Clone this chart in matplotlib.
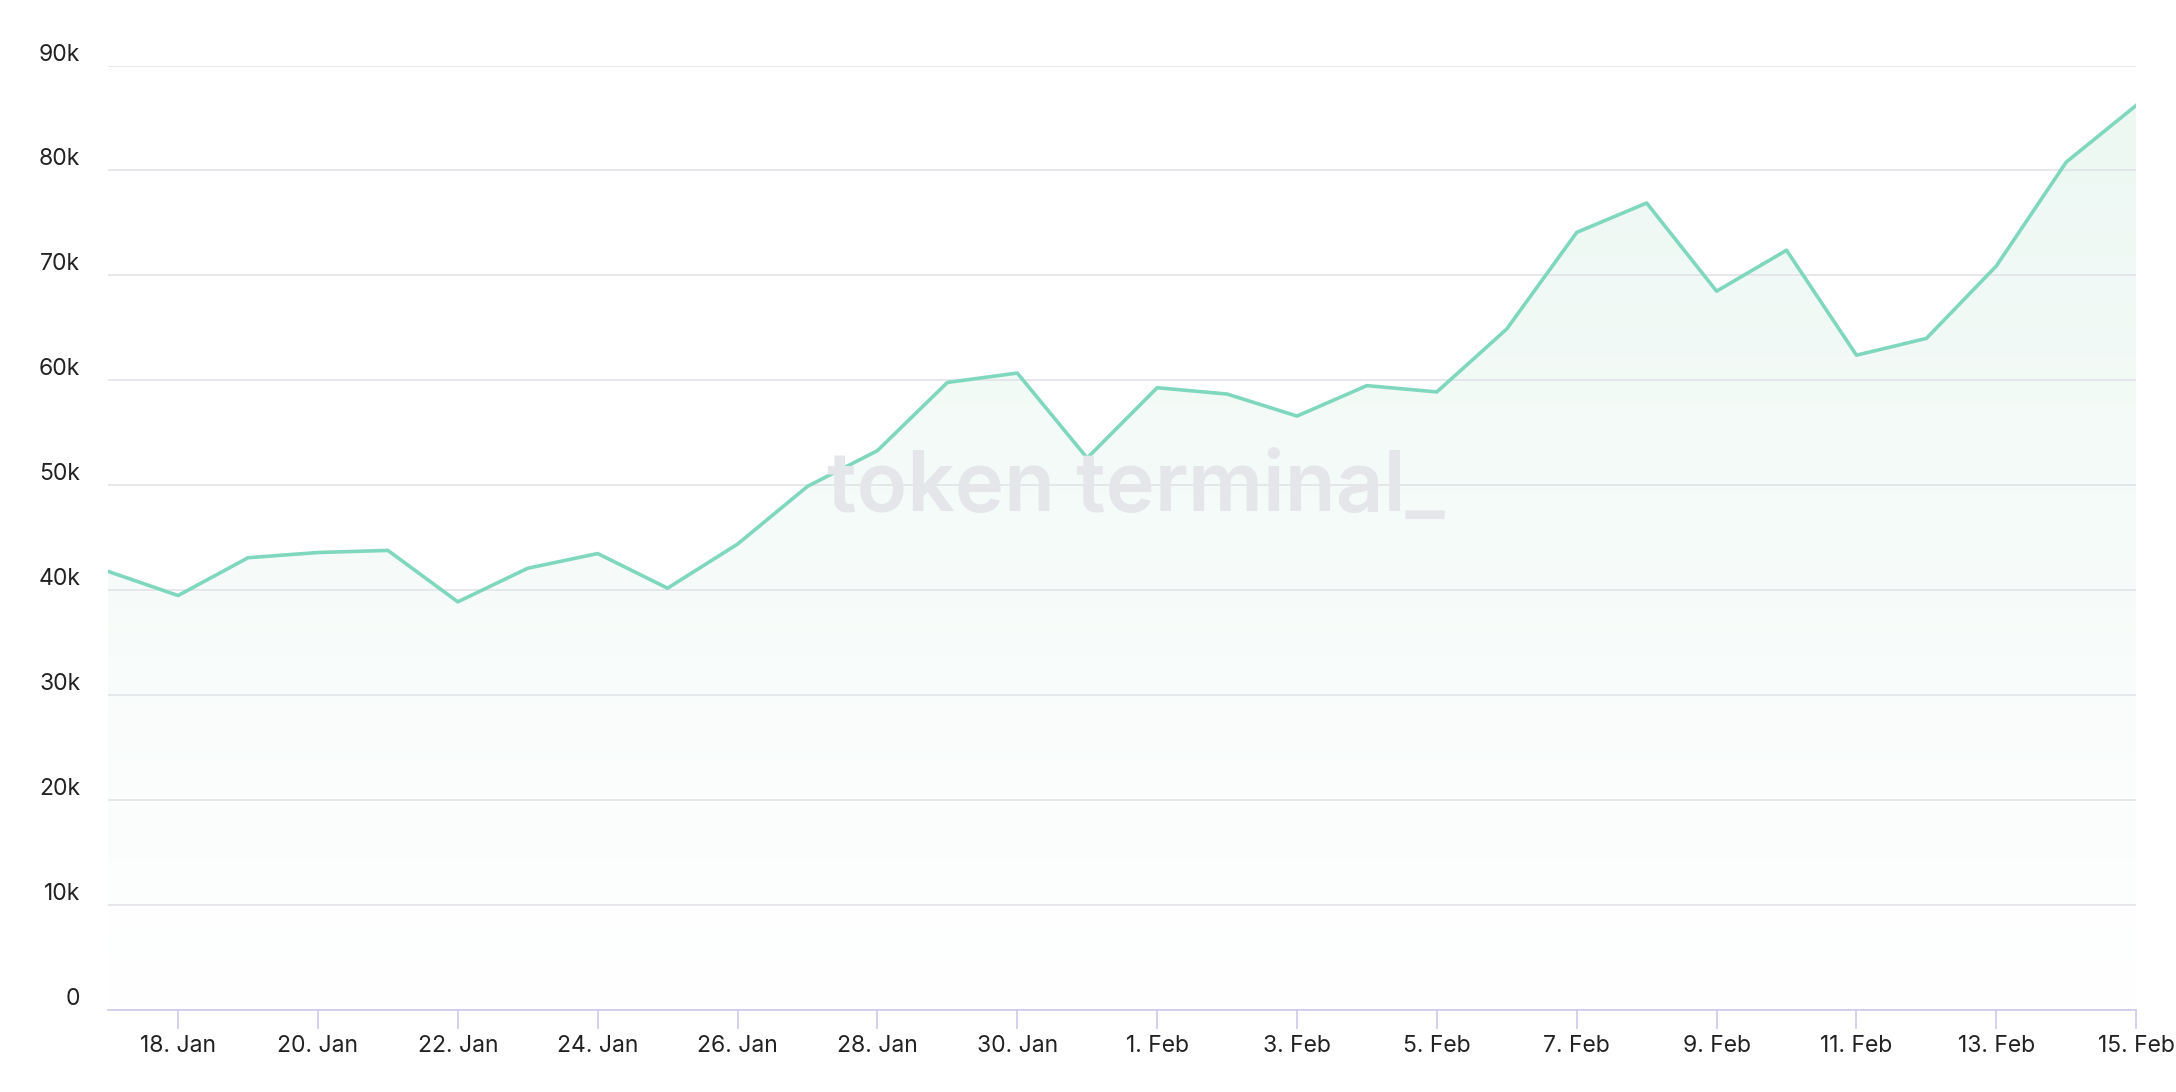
import numpy as np
import pandas as pd
import matplotlib.pyplot as plt
import matplotlib.dates as mdates
from matplotlib.colors import LinearSegmentedColormap
from matplotlib.ticker import FuncFormatter

plt.rcParams["font.family"] = ["Inter", "DejaVu Sans"]

# data
dates = pd.date_range("2024-01-17", "2024-02-15", freq="D")
values = [41.8, 39.5, 43.1, 43.6, 43.8, 38.9, 42.1, 43.5, 40.2, 44.4,
          49.9, 53.3, 59.8, 60.7, 52.6, 59.3, 58.7, 56.6, 59.5, 58.9,
          64.9, 74.1, 76.9, 68.5, 72.4, 62.4, 64.0, 70.9, 80.8, 86.2]
values = np.array(values) * 1000
yticks = np.arange(0, 90001, 10000)

line_color = "#7fd8bd"

fig = plt.figure(figsize=(21.76, 10.92), dpi=100)
ax = fig.add_axes([0.0497, 0.075, 0.932, 0.865])

x = mdates.date2num(dates)
ax.plot(x, values, color=line_color, lw=2.6, zorder=3)

# vertical gradient fill under the line
grad = np.linspace(0, 1, 256).reshape(-1, 1)
cmap = LinearSegmentedColormap.from_list("g", ["#ffffff", "#edf8f3"])
img = ax.imshow(grad, extent=[x[0], x[-1], 0, values.max()], origin="lower",
                aspect="auto", cmap=cmap, zorder=1)
poly = ax.fill_between(x, values, 0, color="none")
img.set_clip_path(poly.get_paths()[0], transform=ax.transData)

ax.set_xlim(x[0], x[-1])
ax.set_ylim(0, 90000)
ax.set_yticks(yticks)
ax.yaxis.set_major_formatter(FuncFormatter(lambda v, p: "0" if v == 0 else f"{int(v/1000)}k"))
ax.grid(axis="y", color="#e3e3e8", lw=1.2, zorder=0)
ax.tick_params(axis="y", length=0, labelsize=16.5, colors="#222222", pad=20)
for lab in ax.get_yticklabels():
    lab.set_verticalalignment("bottom")

ax.set_xticks(x[1::2])
ax.set_xticklabels([d.strftime("%-d. %b") for d in dates[1::2]])
ax.tick_params(axis="x", length=14, width=1.2, color="#d0c8ec", labelsize=16.5,
               pad=4)
for lab in ax.get_xticklabels():
    lab.set_color("#222222")

for s in ["top", "right", "left"]:
    ax.spines[s].set_visible(False)
ax.spines["bottom"].set_color("#d0c8ec")
ax.spines["bottom"].set_linewidth(1.2)

fig.text(0.522, 0.552, "token terminal_", fontsize=60, fontweight="semibold",
         color="#e4e6ea", ha="center", va="center", zorder=0)

fig.savefig("out.png", dpi=100, facecolor="white")
